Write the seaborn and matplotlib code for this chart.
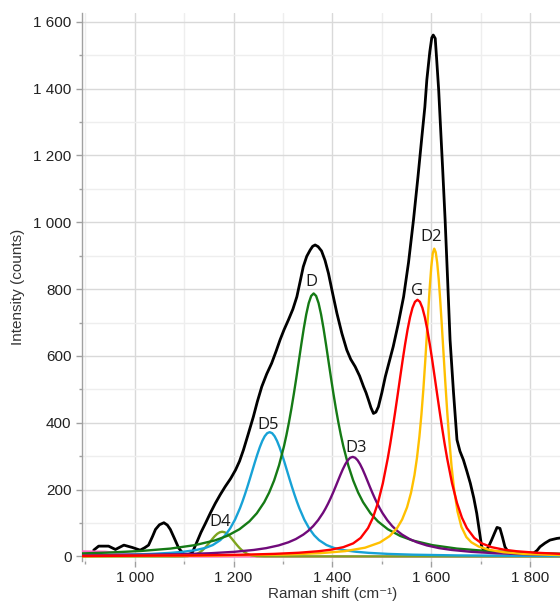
import matplotlib
matplotlib.use("Agg")
import matplotlib.pyplot as plt
import seaborn as sns
import pandas as pd
from matplotlib.ticker import MultipleLocator, FuncFormatter

# ---------------- data ----------------
spec_x = [917, 927, 947, 961, 978, 995, 1011, 1020, 1028, 1036, 1042, 1050, 1059, 1066,
          1072, 1080, 1089, 1099, 1108, 1116, 1126, 1134, 1143, 1153, 1163, 1173, 1183,
          1194, 1204, 1212, 1220, 1230, 1240, 1248, 1257, 1267, 1277, 1286, 1294, 1302,
          1311, 1320, 1328, 1335, 1341, 1348, 1355, 1360, 1365, 1371, 1378, 1385, 1392,
          1400, 1409, 1419, 1429, 1437, 1446, 1455, 1463, 1468, 1473, 1478, 1483, 1488,
          1493, 1500, 1507, 1515, 1523, 1533, 1544, 1554, 1564, 1573, 1581, 1587, 1591,
          1597, 1601, 1604, 1608, 1611, 1615, 1618, 1623, 1628, 1633, 1638, 1645, 1652,
          1658, 1665, 1672, 1679, 1686, 1692, 1699, 1702, 1707, 1712, 1717, 1722, 1728,
          1733, 1739, 1744, 1749, 1755, 1760, 1807, 1814, 1820, 1830, 1840, 1854, 1865]
spec_y = [19, 31, 31, 21, 34, 27, 19, 26, 34, 60, 81, 95, 101, 94,
          81, 55, 25, 7, 6, 10, 44, 72, 99, 130, 159, 185, 209,
          233, 259, 285, 319, 368, 418, 463, 508, 546, 578, 614, 648, 678,
          708, 740, 777, 825, 867, 898, 917, 928, 932, 927, 914, 886, 847,
          790, 728, 668, 618, 590, 568, 540, 508, 490, 468, 445, 428, 432,
          448, 490, 538, 583, 628, 695, 777, 880, 1007, 1135, 1256, 1345, 1426,
          1510, 1552, 1560, 1550, 1485, 1395, 1306, 1160, 1007, 830, 648, 490, 349,
          315, 289, 255, 219, 175, 129, 59, 29, 18, 19, 33, 49, 70,
          87, 84, 58, 29, 15, 10, 10, 18, 29, 40, 49, 54, 56]

d_x = [893, 942, 1012, 1072, 1122, 1162, 1187, 1212, 1232, 1247, 1262, 1272, 1282,
       1292, 1302, 1307, 1312, 1317, 1322, 1327, 1332, 1337, 1342, 1347, 1352, 1357,
       1362, 1367, 1372, 1377, 1382, 1387, 1392, 1397, 1402, 1407, 1412, 1417, 1422,
       1432, 1442, 1452, 1462, 1477, 1492, 1512, 1537, 1562, 1602, 1652, 1712, 1782, 1865]
d_y = [9.2, 11.4, 16.4, 23.6, 34.0, 48.0, 61.6, 81.6, 105.0, 129.3, 162.4, 191.3, 227.4,
       272.9, 330.1, 363.8, 401.3, 442.5, 487.3, 535.0, 584.7, 634.5, 682.1, 724.3, 757.9, 779.5,
       787.0, 779.5, 757.9, 724.3, 682.1, 634.5, 584.7, 535.0, 487.3, 442.5, 401.3, 363.8, 330.1,
       272.9, 227.4, 191.3, 162.4, 129.3, 105.0, 81.6, 61.6, 48.0, 34.0, 23.6, 16.4, 11.4, 8.0]

d5_x = [893, 983, 1033, 1073, 1098, 1123, 1143, 1158, 1173, 1183, 1193, 1203, 1213,
        1218, 1223, 1228, 1233, 1238, 1243, 1248, 1253, 1258, 1263, 1268, 1273, 1278,
        1283, 1288, 1293, 1298, 1303, 1308, 1313, 1318, 1323, 1328, 1333, 1343, 1353,
        1363, 1373, 1388, 1403, 1423, 1448, 1473, 1513, 1563, 1653, 1865]
d5_y = [3.2, 5.4, 7.7, 10.9, 14.1, 19.0, 25.7, 34.3, 48.8, 63.5, 83.8, 110.6, 144.8,
        164.5, 186.0, 208.8, 232.7, 257.2, 281.7, 305.2, 326.8, 345.4, 359.8, 368.9, 372.0, 368.9,
        359.8, 345.4, 326.8, 305.2, 281.7, 257.2, 232.7, 208.8, 186.0, 164.5, 144.8, 110.6, 83.8,
        63.5, 48.8, 34.3, 25.7, 19.0, 14.1, 10.9, 7.7, 5.4, 3.2, 1.3]

d3_x = [893, 1091, 1151, 1201, 1241, 1266, 1291, 1311, 1326, 1341, 1351, 1361, 1371,
        1381, 1386, 1391, 1396, 1401, 1406, 1411, 1416, 1421, 1426, 1431, 1436, 1441,
        1446, 1451, 1456, 1461, 1466, 1471, 1476, 1481, 1486, 1491, 1496, 1501, 1511,
        1521, 1531, 1541, 1556, 1571, 1591, 1616, 1641, 1681, 1731, 1791, 1865]
d3_y = [2.8, 6.7, 9.6, 13.9, 19.6, 25.0, 33.1, 42.5, 52.2, 65.4, 76.7, 90.9, 108.6,
        130.6, 143.5, 157.7, 173.2, 189.9, 207.5, 225.7, 243.8, 260.9, 275.9, 287.8, 295.4, 298.0,
        295.4, 287.8, 275.9, 260.9, 243.8, 225.7, 207.5, 189.9, 173.2, 157.7, 143.5, 130.6, 108.6,
        90.9, 76.7, 65.4, 52.2, 42.5, 33.1, 25.0, 19.6, 13.9, 9.6, 6.7, 4.6]

g_x = [893, 1122, 1222, 1282, 1332, 1372, 1397, 1422, 1442, 1457, 1472, 1482, 1492,
       1502, 1512, 1517, 1522, 1527, 1532, 1537, 1542, 1547, 1552, 1557, 1562, 1567,
       1572, 1577, 1582, 1587, 1592, 1597, 1602, 1607, 1612, 1617, 1622, 1627, 1632,
       1642, 1652, 1662, 1672, 1687, 1702, 1722, 1747, 1772, 1812, 1865]
g_y = [1.5, 3.3, 5.4, 7.8, 11.2, 15.8, 20.4, 27.9, 39.2, 55.5, 84.9, 116.2, 160.1,
       219.1, 294.1, 337.2, 384.0, 433.2, 484.0, 535.8, 586.7, 634.8, 678.5, 715.6, 744.0, 761.9,
       768.0, 761.9, 744.0, 715.6, 678.5, 634.8, 586.7, 535.8, 484.0, 433.2, 384.0, 337.2, 294.1,
       219.1, 160.1, 116.2, 84.9, 55.5, 39.2, 27.9, 20.4, 15.8, 11.2, 7.7]

d2_x = [893, 1156, 1306, 1376, 1426, 1466, 1496, 1516, 1531, 1541, 1551, 1559, 1566,
        1571, 1576, 1580, 1584, 1588, 1591, 1594, 1597, 1600, 1603, 1606, 1609, 1612,
        1615, 1618, 1621, 1624, 1628, 1632, 1636, 1641, 1646, 1653, 1661, 1671, 1681,
        1696, 1716, 1746, 1786, 1865]
d2_y = [1.0, 2.6, 5.9, 9.9, 16.1, 26.3, 41.9, 61.2, 85.5, 110.5, 147.3, 190.5, 243.8,
        294.5, 359.4, 423.7, 500.5, 589.4, 662.3, 736.8, 807.5, 866.8, 906.8, 921.0, 910.1, 878.6,
        830.0, 768.6, 699.5, 626.6, 529.7, 438.5, 356.5, 270.2, 202.3, 135.1, 88.6, 58.1, 42.5,
        29.7, 20.4, 12.8, 7.8, 3.8]

d4_x = [893, 1082, 1097, 1107, 1117, 1122, 1127, 1132, 1137, 1142, 1147, 1152, 1157,
        1162, 1167, 1172, 1177, 1182, 1187, 1192, 1197, 1202, 1207, 1212, 1217, 1222,
        1227, 1232, 1237, 1247, 1262, 1865]
d4_y = [0, 0, 0.3, 1.05, 3.2, 5.4, 8.5, 12.8, 18.5, 25.6, 33.9, 43.0, 52.3,
        60.9, 67.9, 72.4, 74.0, 72.4, 67.9, 60.9, 52.3, 43.0, 33.9, 25.6, 18.5, 12.8,
        8.5, 5.4, 3.2, 1.05, 0.3, 0]

base_x = [893, 940, 1000, 1060, 1120, 1865]
base_y = [15, 14, 6, 2, 0, 0]

peak_names = ["D4", "D5", "D", "D3", "G", "D2"]
label_x = [1173, 1270, 1358, 1447, 1571, 1599]
label_y = [102, 393, 821, 325, 794, 957]

x_title = "Raman shift (cm\u207b\u00b9)"
y_title = "Intensity (counts)"

# ---------------- drawing ----------------
sns.set_style("white")
plt.rcParams["font.family"] = ["Liberation Sans", "DejaVu Sans"]

fig = plt.figure(figsize=(5.6, 6.04), dpi=100)
ax = fig.add_axes([82 / 560, 1 - 561 / 604, 502 / 560, 548 / 604])

def frame(x, y):
    return pd.DataFrame({"x": x, "y": y})

sns.lineplot(data=frame(spec_x, spec_y), x="x", y="y", ax=ax, color="black",
             linewidth=2.0, zorder=3)
components = [
    (base_x, base_y, "#ff66c4"),
    (d4_x, d4_y, "#7ea41e"),
    (d5_x, d5_y, "#17a2d6"),
    (d_x, d_y, "#157a15"),
    (d3_x, d3_y, "#700a7a"),
    (d2_x, d2_y, "#ffc000"),
    (g_x, g_y, "#ff0000"),
]
for cx, cy, col in components:
    sns.lineplot(data=frame(cx, cy), x="x", y="y", ax=ax, color=col,
                 linewidth=1.7, zorder=4)

for name, lx, ly in zip(peak_names, label_x, label_y):
    ax.text(lx, ly, name, ha="center", va="center", fontsize=12,
            family=["Open Sans", "DejaVu Sans"], color="#1a1a1a", zorder=5)

ax.set_xlim(893.3, 1909)
ax.set_ylim(-13.5, 1626)

ax.xaxis.set_major_locator(MultipleLocator(200))
ax.xaxis.set_minor_locator(MultipleLocator(100))
ax.yaxis.set_major_locator(MultipleLocator(200))
ax.yaxis.set_minor_locator(MultipleLocator(100))
fmt = FuncFormatter(lambda v, p: f"{v:,.0f}".replace(",", " "))
ax.xaxis.set_major_formatter(fmt)
ax.yaxis.set_major_formatter(fmt)

ax.grid(which="major", color="#d9d9d9", linewidth=1.0)
ax.grid(which="minor", color="#eeeeee", linewidth=1.0)
ax.set_axisbelow(True)

for s in ["top", "right", "bottom"]:
    ax.spines[s].set_visible(False)
ax.spines["left"].set_color("#a0a0a0")
ax.spines["left"].set_linewidth(1.0)

ax.tick_params(axis="y", which="major", length=4.5, width=1, color="#a0a0a0",
               labelsize=11, labelcolor="#222222", pad=3, left=True)
ax.tick_params(axis="y", which="minor", length=2, width=1, color="#a0a0a0", left=True)
ax.tick_params(axis="x", which="major", length=4, width=1, color="#a0a0a0",
               labelsize=11, labelcolor="#222222", pad=3, bottom=True)
ax.tick_params(axis="x", which="minor", length=2, width=1, color="#a0a0a0", bottom=True)

ax.set_xlabel(x_title, fontsize=11, color="#333333", va="center")
ax.set_ylabel(y_title, fontsize=11, color="#333333", va="center")
ax.xaxis.set_label_coords(0.5, (561 - 594) / 548)
ax.yaxis.set_label_coords((18 - 82) / 502, 0.5)

fig.savefig("out.png", dpi=100)
